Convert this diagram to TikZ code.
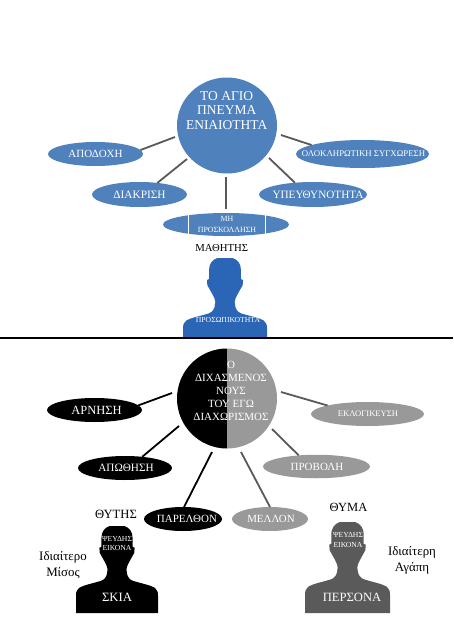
\documentclass[tikz,border=0pt]{standalone}
\usepackage{fontspec}
\setmainfont{Liberation Serif}
\usetikzlibrary{shapes.geometric}
\definecolor{blueN}{HTML}{4F81BD}
\definecolor{blueP}{HTML}{2A66B5}
\definecolor{lineG}{HTML}{595959}
\definecolor{greyN}{HTML}{999999}
\definecolor{greyP}{HTML}{5A5A5A}
\newcommand{\fs}[2]{\fontsize{#1}{#2}\selectfont}
% text of an oval: size, shift, text (takes no room, so the oval keeps its size)
\newcommand{\ovaltext}[3]{\fs{#1}{#1}\raisebox{-.33em}[0pt][0pt]{\makebox[0pt]{\hspace{#2}#3}}}
\tikzset{
  oval/.style={ellipse,inner sep=0pt,outer sep=0pt,text=white,align=center},
  conn/.style={line width=1.8pt,draw=lineG,line cap=butt},
  connb/.style={line width=1.8pt,draw=black,line cap=butt},
  lbl/.style={inner sep=0pt,outer sep=0pt,align=center},
  wlbl/.style={lbl,text=white},
  person/.pic={
    \fill[pic actions] (-.18,0) -- (.18,0)
      .. controls (.30,.02) and (.38,.06) .. (.38,.14)
      -- (.38,.24) -- (.43,.25) -- (.42,.31) -- (.36,.36)
      .. controls (.33,.40) and (.27,.42) .. (.25,.46)
      -- (.23,.50) -- (.25,.56)
      .. controls (.28,.61) and (.36,.63) .. (.46,.64)
      .. controls (.60,.66) and (.82,.68) .. (.92,.71)
      .. controls (.97,.73) and (1,.75) .. (1,.80)
      -- (1,1) -- (-1,1) -- (-1,.80)
      .. controls (-1,.75) and (-.97,.73) .. (-.92,.71)
      .. controls (-.82,.68) and (-.60,.66) .. (-.46,.64)
      .. controls (-.36,.63) and (-.28,.61) .. (-.25,.56)
      -- (-.23,.50) -- (-.25,.46)
      .. controls (-.27,.42) and (-.33,.40) .. (-.36,.36)
      -- (-.42,.31) -- (-.43,.25) -- (-.38,.24) -- (-.38,.14)
      .. controls (-.38,.06) and (-.30,.02) .. (-.18,0) -- cycle;
  }
}
\begin{document}
\begin{tikzpicture}[x=1pt,y=-1pt]
\useasboundingbox[fill=white] (0,0) rectangle (453,640);
% ---- upper half
\coordinate (ta) at (175,137); \coordinate (tb) at (187,159);
\coordinate (tc) at (226,177); \coordinate (td) at (269,158);
\coordinate (te) at (281,135); \coordinate (tc2) at (226,209);
\node[oval,fill=blueN,minimum width=100pt,minimum height=96pt] (god) at (227,125.5) {};
\node[oval,fill=blueN,minimum width=95pt,minimum height=24pt] (apo) at (95.5,154) {\ovaltext{11}{0pt}{ΑΠΟΔΟΧΗ}};
\node[oval,fill=blueN,minimum width=95pt,minimum height=25pt] (dia) at (139.5,194.5) {\ovaltext{11.3}{0pt}{ΔΙΑΚΡΙΣΗ}};
\node[oval,fill=blueN,minimum width=126pt,minimum height=23pt] (mi) at (226,224.5) {};
\node[oval,fill=blueN,minimum width=108pt,minimum height=25pt] (ypeu) at (313,194.5) {\ovaltext{11.2}{10pt}{ΥΠΕΥΘΥΝΟΤΗΤΑ}};
\node[oval,fill=blueN,minimum width=133pt,minimum height=28pt] (olo) at (362.5,154) {\ovaltext{8.8}{2pt}{ΟΛΟΚΛΗΡΩΤΙΚΗ ΣΥΓΧΩΡΕΣΗ}};
\draw[conn] (ta) -- (apo.5.5);
\draw[conn] (tb) -- (dia.33);
\draw[conn] (tc) -- (tc2);
\draw[conn] (td) -- (ypeu.147);
\draw[conn] (te) -- (olo.170);
\draw[white,line width=1pt] (188,213.5) -- (188,236) (265,213.5) -- (265,236);
\node[wlbl,font=\fs{13.5}{14.5}] (godt) at (226.7,110.5) {ΤΟ ΑΓΙΟ\\ΠΝΕΥΜΑ\\ΕΝΙΑΙΟΤΗΤΑ};
\node[wlbl,font=\fs{7.9}{11}] (mit) at (227,224) {ΜΗ\\ΠΡΟΣΚΟΛΛΗΣΗ};
\node[lbl,font=\fs{10.7}{11}] (math) at (221.7,248) {ΜΑΘΗΤΗΣ};
\begin{scope}
  \clip (0,0) rectangle (453,337);
  \scoped[shift={(225,258)},x=42pt,y=-88pt] \pic[fill=blueP] {person};
\end{scope}
\node[wlbl,font=\fs{7.7}{8}] (pros) at (228,320) {ΠΡΟΣΩΠΙΚΟΤΗΤΑ};
\coordinate (ruleL) at (0,337.5); \coordinate (ruleR) at (453,337.5);
\draw[black,line width=2pt] (ruleL) -- (ruleR);
% ---- lower half
\coordinate (ba) at (172,393); \coordinate (bb) at (179,426);
\coordinate (bc) at (212,452); \coordinate (bd) at (241,452);
\coordinate (be) at (272,429); \coordinate (bf) at (281,392);
\node[oval,minimum size=100pt] (ego) at (227,398.5) {};
\fill[black] (ego.north) arc[start angle=90,delta angle=180,radius=50pt] -- cycle;
\fill[greyN] (ego.north) arc[start angle=90,delta angle=-180,radius=50pt] -- cycle;
\node[oval,fill=black,minimum width=95pt,minimum height=24pt] (arn) at (94.5,410) {\ovaltext{12.5}{4pt}{ΑΡΝΗΣΗ}};
\node[oval,fill=black,minimum width=94pt,minimum height=24pt] (apot) at (125,468) {\ovaltext{11.2}{2pt}{ΑΠΩΘΗΣΗ}};
\node[oval,fill=black,minimum width=78pt,minimum height=24pt] (par) at (183,519) {\ovaltext{11}{8pt}{ΠΑΡΕΛΘΟΝ}};
\node[oval,fill=greyN,minimum width=76pt,minimum height=24pt] (mel) at (270,519) {\ovaltext{10.9}{2pt}{ΜΕΛΛΟΝ}};
\node[oval,fill=greyN,minimum width=107pt,minimum height=23.5pt] (pro) at (316.5,466.5) {\ovaltext{11}{1pt}{ΠΡΟΒΟΛΗ}};
\node[oval,fill=greyN,minimum width=113pt,minimum height=24pt] (ekl) at (367.5,414) {\ovaltext{8.6}{1pt}{ΕΚΛΟΓΙΚΕΥΣΗ}};
\draw[connb] (ba) -- (arn.6);
\draw[connb] (bb) -- (apot.33);
\draw[connb] (bc) -- (par.85);
\draw[conn] (bd) -- (mel.90);
\draw[conn] (be) -- (pro.148);
\draw[conn] (bf) -- (ekl.168.6);
\node[wlbl,font=\fs{11}{13}] (egot) at (231,391) {Ο\\ΔΙΧΑΣΜΕΝΟΣ\\ΝΟΥΣ\\ΤΟΥ ΕΓΩ\\ΔΙΑΧΩΡΙΣΜΟΣ};
\node[lbl,font=\fs{12.6}{13}] (thy) at (116,514) {ΘΥΤΗΣ};
\node[lbl,font=\fs{12.5}{13}] (thym) at (348.5,507) {ΘΥΜΑ};
\scoped[shift={(117,526)},x=41pt,y=-87pt] \pic[fill=black] {person};
\scoped[shift={(347.5,522)},x=42.5pt,y=-91pt] \pic[fill=greyP] {person};
\node[wlbl,font=\fs{7.7}{9.5}] (psa) at (117,543.5) {ΨΕΥΔΗΣ\\ΕΙΚΟΝΑ};
\node[wlbl,font=\fs{7.7}{10}] (psb) at (348,540) {ΨΕΥΔΗΣ\\ΕΙΚΟΝΑ};
\node[wlbl,font=\fs{12.7}{13}] (ski) at (117,597) {ΣΚΙΑ};
\node[wlbl,font=\fs{12.6}{13}] (per) at (352,597) {ΠΕΡΣΟΝΑ};
\node[lbl,font=\fs{12.9}{16}] (mis) at (63,565) {Ιδιαίτερο\\Μίσος};
\node[lbl,font=\fs{12.9}{15.5}] (aga) at (412,560.5) {Ιδιαίτερη\\Αγάπη};
\end{tikzpicture}
\end{document}
